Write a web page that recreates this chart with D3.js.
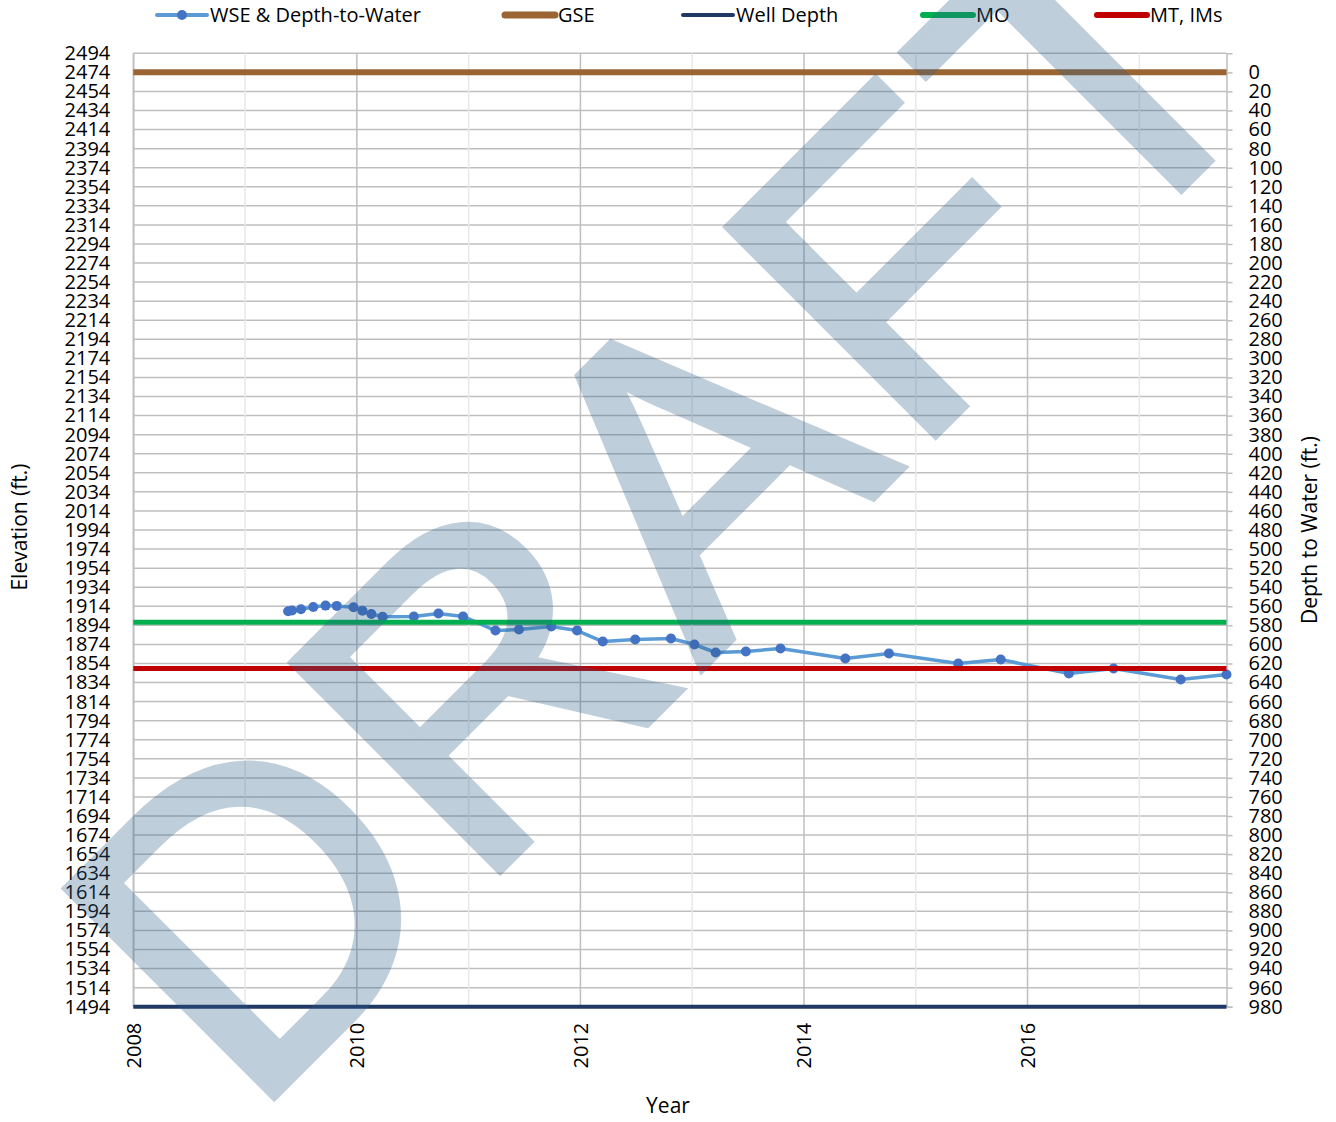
<!DOCTYPE html>
<html>
<head>
<meta charset="utf-8">
<script src="https://cdn.jsdelivr.net/npm/d3@7"></script>
<style>
body { margin: 0; background: #fff; }
svg { font-family: "Open Sans", sans-serif; }
</style>
</head>
<body>
<svg id="chart" width="1336" height="1122"></svg>
<script>
// water surface elevation readings (decimal year, ft.)
const years = [2009.385, 2009.42, 2009.50, 2009.61, 2009.72, 2009.82, 2009.97, 2010.05, 2010.13, 2010.23,
               2010.51, 2010.73, 2010.95, 2011.24, 2011.45, 2011.74, 2011.97, 2012.20, 2012.49, 2012.81,
               2013.02, 2013.21, 2013.48, 2013.79, 2014.37, 2014.76, 2015.38, 2015.76, 2016.37, 2016.77,
               2017.37, 2017.78];
const elevations = [1908.7, 1909.5, 1910.8, 1913.3, 1914.7, 1914.4, 1912.9, 1909.4, 1905.9, 1903.1,
                    1903.3, 1906.4, 1903.3, 1888.5, 1889.6, 1892.7, 1888.5, 1877.0, 1879.1, 1880.2,
                    1873.9, 1865.5, 1866.6, 1869.7, 1859.2, 1864.4, 1853.9, 1858.1, 1843.4, 1848.7,
                    1837.1, 1842.4];
const gse = 2474;
const wellBottom = 1494;
const moLevel = 1897.3;
const mtLevel = 1848.6;

const elevTicks = d3.range(1494, 2495, 20);
const depthTicks = d3.range(0, 981, 20);
const yearTicks = [2008, 2010, 2012, 2014, 2016];
const minorYears = [2009, 2011, 2013, 2015, 2017];
const xDomain = [2008, 2017.78];

const legendNames = ["WSE & Depth-to-Water", "GSE", "Well Depth", "MO", "MT, IMs"];
const legendColors = ["#5B9BD5", "#9A6533", "#203864", "#00B050", "#C00000"];

const svg = d3.select("#chart");
const plotL = 133.3, plotR = 1226.5, plotT = 53.3, plotB = 1006.7;

const x = d3.scaleLinear().domain(xDomain).range([plotL, plotR]);
const y = d3.scaleLinear().domain([1494, 2494]).range([plotB, plotT]);
const yDepth = d3.scaleLinear().domain([gse - 1494, gse - 2494]).range([plotB, plotT]);

// grid
const grid = svg.append("g");
grid.selectAll("line.h").data(elevTicks).enter().append("line")
    .attr("x1", plotL).attr("x2", plotR)
    .attr("y1", d => y(d)).attr("y2", d => y(d))
    .attr("stroke", "#BFBFBF").attr("stroke-width", 1.5);
grid.selectAll("line.minor").data(minorYears).enter().append("line")
    .attr("x1", d => x(d)).attr("x2", d => x(d))
    .attr("y1", plotT).attr("y2", plotB)
    .attr("stroke", "#E8E8E8").attr("stroke-width", 1.5);
grid.selectAll("line.major").data(yearTicks).enter().append("line")
    .attr("x1", d => x(d)).attr("x2", d => x(d))
    .attr("y1", plotT).attr("y2", plotB)
    .attr("stroke", "#BFBFBF").attr("stroke-width", 1.5);

// axes
const gLeft = svg.append("g").attr("transform", `translate(${plotL},0)`)
    .call(d3.axisLeft(y).tickValues(elevTicks).tickFormat(d3.format("d")).tickSize(0).tickPadding(23));
const gRight = svg.append("g").attr("transform", `translate(${plotR},0)`)
    .call(d3.axisRight(yDepth).tickValues(depthTicks).tickFormat(d3.format("d")).tickSize(6).tickPadding(16));
const gBottom = svg.append("g").attr("transform", `translate(0,${plotB})`)
    .call(d3.axisBottom(x).tickValues(yearTicks).tickFormat(d3.format("d")).tickSize(0));
gBottom.selectAll("text")
    .attr("transform", "rotate(-90)")
    .attr("text-anchor", "end")
    .attr("x", -16).attr("y", 0).attr("dy", "0.35em");
[gLeft, gRight, gBottom].forEach(g => {
    g.selectAll("text").attr("font-size", 20).attr("fill", "#000").attr("font-family", "Open Sans");
    g.selectAll(".tick line").attr("stroke", "#BFBFBF").attr("stroke-width", 1.5);
});
gBottom.select(".domain").remove();
gLeft.select(".domain").attr("stroke", "#BFBFBF").attr("stroke-width", 1.5);
gRight.select(".domain").attr("stroke", "#BFBFBF").attr("stroke-width", 1.5);

// axis titles
svg.append("text").attr("transform", "translate(27,527) rotate(-90)")
    .attr("text-anchor", "middle").attr("font-size", 21).text("Elevation (ft.)");
svg.append("text").attr("transform", "translate(1317,530) rotate(-90)")
    .attr("text-anchor", "middle").attr("font-size", 21).text("Depth to Water (ft.)");
svg.append("text").attr("x", 668).attr("y", 1113)
    .attr("text-anchor", "middle").attr("font-size", 21).text("Year");

// series
const wse = years.map((yr, i) => ({yr: yr, e: elevations[i]}));
svg.append("path").datum(wse)
    .attr("fill", "none").attr("stroke", legendColors[0]).attr("stroke-width", 3.5)
    .attr("stroke-linejoin", "round")
    .attr("d", d3.line().x(d => x(d.yr)).y(d => y(d.e)));
svg.selectAll("circle.pt").data(wse).enter().append("circle")
    .attr("cx", d => x(d.yr)).attr("cy", d => y(d.e)).attr("r", 5)
    .attr("fill", "#4472C4");

const flatLines = [
    {v: gse, color: legendColors[1], w: 6},
    {v: wellBottom, color: legendColors[2], w: 4},
    {v: moLevel, color: legendColors[3], w: 5},
    {v: mtLevel, color: legendColors[4], w: 5}
];
svg.selectAll("line.flat").data(flatLines).enter().append("line")
    .attr("x1", plotL).attr("x2", plotR)
    .attr("y1", d => y(d.v)).attr("y2", d => y(d.v))
    .attr("stroke", d => d.color).attr("stroke-width", d => d.w);

// legend
const legendX = [157, 505, 683, 923, 1097];
const legendW = [6, 7, 4, 6, 6];
const lg = svg.append("g").attr("transform", "translate(0,15)");
legendNames.forEach((name, i) => {
    lg.append("line").attr("x1", legendX[i]).attr("x2", legendX[i] + 50)
        .attr("stroke", legendColors[i]).attr("stroke-width", i === 0 ? 4 : legendW[i])
        .attr("stroke-linecap", "round");
    if (i === 0) {
        lg.append("circle").attr("cx", legendX[i] + 25).attr("r", 5).attr("fill", "#4472C4");
    }
    lg.append("text").attr("x", legendX[i] + 53).attr("dy", "0.35em")
        .attr("font-size", 20).text(name);
});

// watermark (group opacity so fill + stroke composite once)
svg.append("g").attr("opacity", 0.3)
  .append("text")
    .attr("transform", "translate(270,1100) rotate(-45)")
    .attr("x", -29)
    .attr("font-family", "Liberation Sans")
    .attr("font-size", 426)
    .attr("letter-spacing", 12)
    .attr("fill", "#2E5F8A").attr("stroke", "#2E5F8A").attr("stroke-width", 9)
    .text("DRAFT");
</script>
</body>
</html>
